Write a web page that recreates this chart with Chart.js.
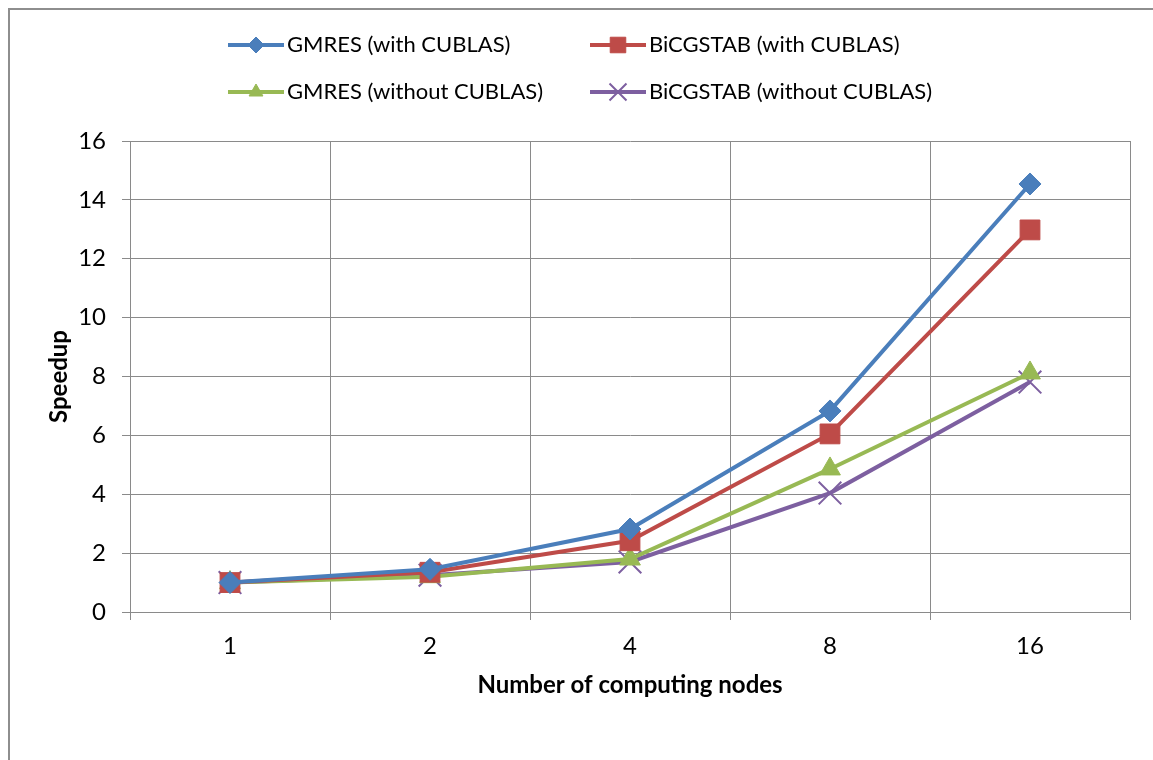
<!DOCTYPE html>
<html>
<head>
<meta charset="utf-8">
<script src="https://cdn.jsdelivr.net/npm/chart.js@4.4.1/dist/chart.umd.min.js"></script>
<style>
  html, body { margin: 0; padding: 0; background: #fff; overflow: hidden; }
  #frame { position: absolute; left: 8px; top: 8px; width: 1200px; height: 800px; border: 2px solid #8e8e8e; }
  #wrap { position: absolute; left: 0; top: 0; width: 1153px; height: 760px; }
</style>
</head>
<body>
<div id="frame"></div>
<div id="wrap"><canvas id="c" width="1153" height="760"></canvas></div>
<script>
// --- Données ---
const nodes = ['1', '2', '4', '8', '16'];
const gmresCublas    = [1.0, 1.45, 2.82, 6.83, 14.54];
const bicgCublas     = [1.0, 1.35, 2.42, 6.05, 12.98];
const gmresNoCublas  = [1.0, 1.2, 1.8, 4.86, 8.12];
const bicgNoCublas   = [1.0, 1.25, 1.7, 4.04, 7.81];
const yTicks = [0, 2, 4, 6, 8, 10, 12, 14, 16];

const FONT = 'Lato, "Liberation Sans", sans-serif';
const GRID = '#8a8a8a';

const mk = (label, data, color, style, r, lr) => ({
  label, data,
  borderColor: color, backgroundColor: color,
  borderWidth: 4,
  pointStyle: style, pointRadius: r, pointHoverRadius: r,
  pointBorderWidth: style === 'crossRot' ? 2 : 1,
  legendRadius: lr,
  tension: 0
});

// --- Légende 2x2 dessinée à la main ---
const legendGrid = {
  id: 'legendGrid',
  afterDraw(chart) {
    const ctx = chart.ctx;
    const pos = [[228, 45], [590, 45], [228, 92], [590, 92]];
    chart.data.datasets.forEach((ds, i) => {
      const [x, y] = pos[i];
      ctx.save();
      ctx.strokeStyle = ds.borderColor;
      ctx.fillStyle = ds.borderColor;
      ctx.lineWidth = 4;
      ctx.beginPath(); ctx.moveTo(x, y); ctx.lineTo(x + 56, y); ctx.stroke();
      ctx.lineWidth = ds.pointBorderWidth;
      Chart.helpers.drawPoint(ctx, {
        pointStyle: ds.pointStyle, radius: ds.legendRadius, rotation: 0,
        borderWidth: ds.pointBorderWidth
      }, x + 28, y);
      ctx.fillStyle = '#000';
      ctx.font = '22px ' + FONT;
      ctx.textBaseline = 'middle';
      ctx.fillText(ds.label, x + 59, y);
      ctx.restore();
    });
  }
};

new Chart(document.getElementById('c'), {
  type: 'line',
  data: {
    labels: nodes,
    datasets: [
      mk('GMRES (with CUBLAS)', gmresCublas, '#4a7ebb', 'rectRot', 11, 8),
      mk('BiCGSTAB (with CUBLAS)', bicgCublas, '#be4b48', 'rect', 14, 11),
      mk('GMRES (without CUBLAS)', gmresNoCublas, '#98b954', 'triangle', 12, 8),
      mk('BiCGSTAB (without CUBLAS)', bicgNoCublas, '#7d5fa0', 'crossRot', 16, 12)
    ]
  },
  plugins: [legendGrid],
  options: {
    responsive: false,
    animation: false,
    layout: { padding: { top: 141, right: 23, left: 45, bottom: 60 } },
    plugins: { legend: { display: false }, tooltip: { enabled: false } },
    scales: {
      x: {
        offset: true,
        grid: { offset: true, color: GRID, lineWidth: 1, tickLength: 8, drawTicks: true },
        border: { color: GRID, width: 1 },
        ticks: { color: '#000', font: { family: FONT, size: 24 }, padding: 12 },
        title: { display: true, text: 'Number of computing nodes', color: '#000',
                 font: { family: FONT, size: 24, weight: 'bold' }, padding: 0 },
        afterFit: (s) => { s.height = 88; }
      },
      y: {
        min: 0, max: 16,
        afterBuildTicks: (s) => { s.ticks = yTicks.map(v => ({ value: v })); },
        grid: { color: GRID, lineWidth: 1, tickLength: 8 },
        border: { color: GRID, width: 1 },
        ticks: { color: '#000', font: { family: FONT, size: 24 }, padding: 16 },
        title: { display: true, text: 'Speedup', color: '#000',
                 font: { family: FONT, size: 24, weight: 'bold' }, padding: 0 },
        afterFit: (s) => { s.width = 85; }
      }
    }
  }
});
</script>
</body>
</html>
